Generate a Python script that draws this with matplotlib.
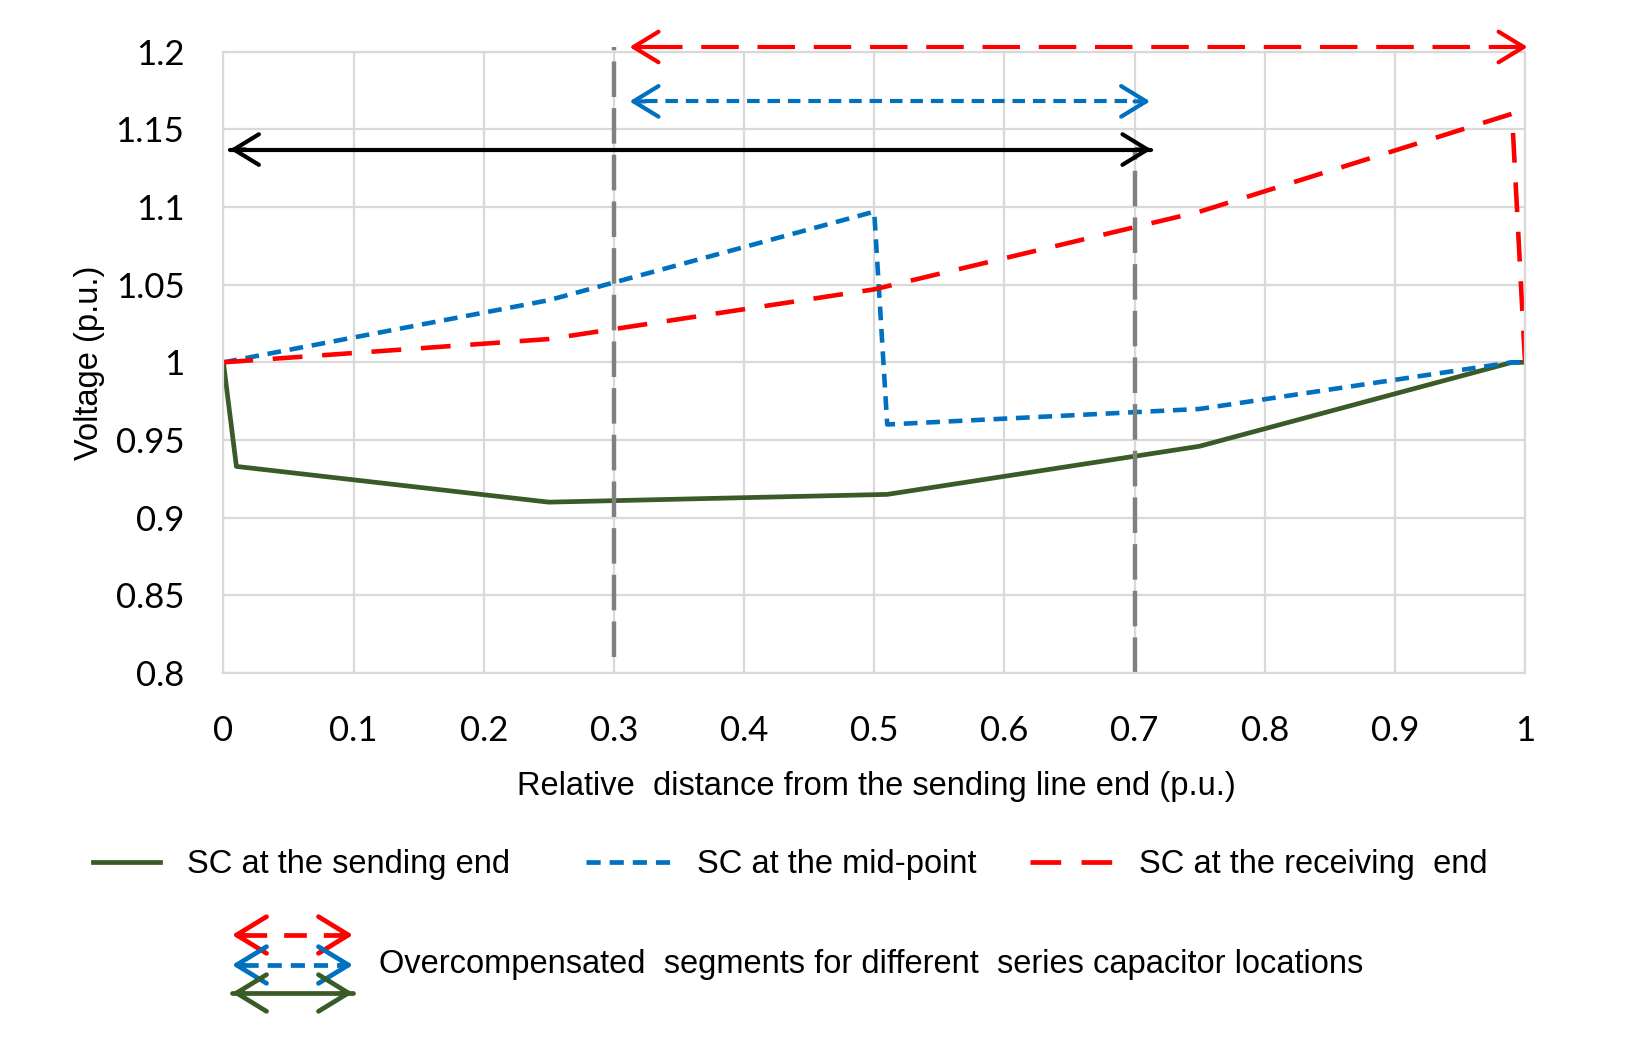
"""Voltage profile along a series-compensated line for three capacitor locations."""

import matplotlib.pyplot as plt

# relative distance from the sending end (p.u.) and voltage (p.u.)
x_send = [0, 0.01, 0.25, 0.51, 0.75, 0.99, 1.0]
v_send = [1.0, 0.933, 0.91, 0.915, 0.946, 1.0, 1.0]

x_mid = [0, 0.25, 0.5, 0.51, 0.75, 0.99, 1.0]
v_mid = [1.0, 1.04, 1.097, 0.96, 0.97, 1.0, 1.0]

x_recv = [0, 0.25, 0.5, 0.75, 0.99, 1.0]
v_recv = [1.0, 1.015, 1.047, 1.097, 1.16, 1.0]

series_labels = ['SC at the sending end', 'SC at the mid-point',
                 'SC at the receiving  end']

# overcompensated segments: (start, end, drawn at voltage)
span_recv = (0.312, 1.002, 1.203)
span_mid = (0.312, 0.712, 1.168)
span_send = (0.005, 0.713, 1.137)

# vertical markers: x, top, bottom
limit_x = [0.3, 0.7]
limit_top = [1.203, 1.137]
limit_bottom = [0.81, 0.8]

x_ticks = [0, 0.1, 0.2, 0.3, 0.4, 0.5, 0.6, 0.7, 0.8, 0.9, 1.0]
x_tick_labels = ['0', '0.1', '0.2', '0.3', '0.4', '0.5', '0.6', '0.7', '0.8',
                 '0.9', '1']
y_ticks = [0.8, 0.85, 0.9, 0.95, 1.0, 1.05, 1.1, 1.15, 1.2]
y_tick_labels = ['0.8', '0.85', '0.9', '0.95', '1', '1.05', '1.1', '1.15',
                 '1.2']

GREEN = '#3a5a27'
BLUE = '#0070c0'
RED = '#ff0000'
GRAY = '#808080'
GRID = '#d9d9d9'

SOLID = None
DOTTED = (3.0, 1.9)
DASHED = (6.5, 4.3)
ARROW_DASHED = (9.0, 4.5)

TEXT_FONT = 'Liberation Sans'
TICK_FONT = 'Lato'
TEXT_SIZE = 23.5


def draw_span(axis, x0, x1, y, color, dashes, tip=0.012, lw=3.0, scale=20):
  """Double headed arrow with solid chevron heads and a styled shaft."""
  head = dict(arrowstyle='->,head_length=0.9,head_width=0.55', lw=lw,
              color=color, mutation_scale=scale, shrinkA=0, shrinkB=0,
              capstyle='round', joinstyle='round')
  if dashes is None:
    axis.plot([x0, x1], [y, y], color=color, lw=lw, clip_on=False,
              solid_capstyle='round')
  else:
    axis.plot([x0 + tip, x1 - tip], [y, y], color=color, lw=lw,
              dashes=dashes, clip_on=False)
  axis.annotate('', xy=(x0, y), xytext=(x0 + tip, y), arrowprops=head,
                annotation_clip=False)
  axis.annotate('', xy=(x1, y), xytext=(x1 - tip, y), arrowprops=head,
                annotation_clip=False)


fig = plt.figure(figsize=(16.51, 10.48), dpi=100)
ax = fig.add_axes([0.1353, 0.3578, 0.7884, 0.5929])

ax.plot(x_send, v_send, color=GREEN, lw=3.4, solid_joinstyle='round')
ax.plot(x_mid, v_mid, color=BLUE, lw=3.3, dashes=DOTTED,
        dash_capstyle='butt')
ax.plot(x_recv, v_recv, color=RED, lw=3.3, dashes=DASHED,
        dash_capstyle='butt')

for x, top, bottom in zip(limit_x, limit_top, limit_bottom):
  ax.plot([x, x], [bottom, top], color=GRAY, lw=3.2, dashes=(8, 2.5),
          clip_on=False)

draw_span(ax, *span_recv, RED, ARROW_DASHED)
draw_span(ax, *span_mid, BLUE, DOTTED)
draw_span(ax, *span_send, 'black', SOLID)

ax.set_xlim(0, 1)
ax.set_ylim(0.8, 1.2)
ax.set_xticks(x_ticks, x_tick_labels)
ax.set_yticks(y_ticks, y_tick_labels)
ax.tick_params(length=0, labelsize=25, colors='black')
ax.tick_params(axis='x', pad=30)
ax.tick_params(axis='y', pad=28)
for label in ax.get_xticklabels() + ax.get_yticklabels():
  label.set_fontfamily(TICK_FONT)
ax.grid(color=GRID, lw=1.6)
ax.set_axisbelow(True)
for spine in ax.spines.values():
  spine.set_color(GRID)
  spine.set_linewidth(1.6)

fig.text(876 / 1651, 1 - 786 / 1048,
         'Relative  distance from the sending line end (p.u.)',
         family=TEXT_FONT, size=TEXT_SIZE, ha='center', va='center')
fig.text(89 / 1651, 1 - 363 / 1048, 'Voltage (p.u.)', family=TEXT_FONT,
         size=TEXT_SIZE, rotation=90, ha='center', va='center')

# legend area, drawn in pixel coordinates
leg = fig.add_axes([0, 0, 1, 1])
leg.set_xlim(0, 1651)
leg.set_ylim(1048, 0)
leg.axis('off')

handle_x = [(93, 160), (586, 671), (1030, 1114)]
text_x = [187, 697, 1139]
styles = [(GREEN, SOLID), (BLUE, DOTTED), (RED, DASHED)]
for (h0, h1), tx, (color, dashes), label in zip(handle_x, text_x, styles,
                                                series_labels):
  kw = {} if dashes is None else {'dashes': dashes}
  leg.plot([h0, h1], [862, 862], color=color, lw=3.4, **kw)
  leg.text(tx, 865, label, family=TEXT_FONT, size=TEXT_SIZE, va='center')

draw_span(leg, 232, 353, 935, RED, (4.8, 3.6), tip=12, lw=3.4, scale=24)
draw_span(leg, 232, 353, 965, BLUE, DOTTED, tip=12, lw=3.4, scale=24)
draw_span(leg, 232, 353, 993, GREEN, SOLID, tip=12, lw=3.4, scale=24)
leg.text(379, 964,
         'Overcompensated  segments for different  series capacitor locations',
         family=TEXT_FONT, size=TEXT_SIZE, va='center')

fig.savefig('out.png', dpi=100)
